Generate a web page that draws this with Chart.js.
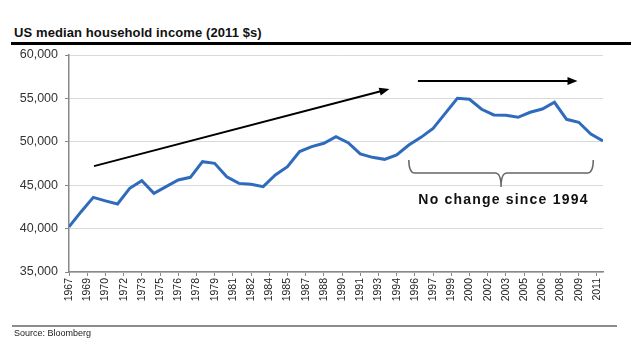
<!DOCTYPE html>
<html lang="en">
<head>
<meta charset="UTF-8">
<title>US median household income</title>
<script src="https://cdn.jsdelivr.net/npm/chart.js"></script>
<style>
    html, body { margin: 0; padding: 0; background: #fff; }
    body { width: 631px; height: 344px; position: relative; overflow: hidden; font-family: Arial, "Liberation Sans", sans-serif; }
    .title { position: absolute; left: 14px; top: 25px; font-size: 13px; font-weight: bold; color: #111; letter-spacing: 0.1px; }
    .topRule { position: absolute; left: 11px; right: 0; top: 42px; height: 3px; background: #000; }
    .bottomRule { position: absolute; left: 12px; width: 605px; top: 325px; height: 2px; background: #8c8c8c; }
    .source { position: absolute; left: 14px; top: 328px; font-size: 9px; color: #222; }
    #incomeChart { position: absolute; left: 0; top: 0; }
</style>
</head>
<body>
<div class="title">US median household income (2011 $s)</div>
<div class="topRule"></div>
<canvas id="incomeChart" width="631" height="344"></canvas>
<div class="bottomRule"></div>
<div class="source">Source: Bloomberg</div>

<script>
// yearly values, 1967-2011
const years = [];
for (let y = 1967; y <= 2011; y++) years.push(y);
const income = [
    40200, 41950, 43600, 43200, 42830, 44640, 45520, 44070, 44830, 45600,
    45910, 47710, 47520, 45980, 45210, 45100, 44830, 46180, 47140, 48870,
    49440, 49830, 50600, 49900, 48600, 48210, 47980, 48480, 49630, 50510,
    51550, 53280, 55010, 54900, 53750, 53090, 53050, 52820, 53400, 53780,
    54550, 52590, 52250, 50900, 50090
];
// tick labels every 18 months along the date axis
const xTickLabels = ['1967','1969','1970','1972','1973','1975','1976','1978','1979','1981',
    '1982','1984','1985','1987','1988','1990','1991','1993','1994','1996',
    '1997','1999','2000','2002','2003','2005','2006','2008','2009','2011'];
const yTicks = [35000, 40000, 45000, 50000, 55000, 60000];

// annotations in data coordinates [year, value]
const trendArrow = [[1969.06, 47200], [1993.4, 56080]];
const flatArrow = [[1995.75, 57000], [2008.9, 57000]];
const brace = { from: 1995.0, to: 2010.2, mid: 2002.6, top: 47900, bar: 46400, tip: 44800 };
const braceText = { x: 2002.8, y: 43300, text: 'No change since 1994' };

function arrow(ctx, x1, y1, x2, y2) {
    const a = Math.atan2(y2 - y1, x2 - x1);
    const len = 10, half = 4;
    ctx.beginPath();
    ctx.moveTo(x1, y1);
    ctx.lineTo(x2 - Math.cos(a) * len * 0.8, y2 - Math.sin(a) * len * 0.8);
    ctx.stroke();
    ctx.beginPath();
    ctx.moveTo(x2, y2);
    ctx.lineTo(x2 - Math.cos(a) * len - Math.sin(a) * half, y2 - Math.sin(a) * len + Math.cos(a) * half);
    ctx.lineTo(x2 - Math.cos(a) * len + Math.sin(a) * half, y2 - Math.sin(a) * len - Math.cos(a) * half);
    ctx.closePath();
    ctx.fill();
}

const annotations = {
    id: 'annotations',
    afterDatasetsDraw(chart) {
        const ctx = chart.ctx;
        const xs = chart.scales.x, ys = chart.scales.y;
        const px = v => xs.getPixelForValue(v);
        const py = v => ys.getPixelForValue(v);
        ctx.save();
        ctx.strokeStyle = '#000';
        ctx.fillStyle = '#000';
        ctx.lineWidth = 2;
        arrow(ctx, px(trendArrow[0][0]), py(trendArrow[0][1]), px(trendArrow[1][0]), py(trendArrow[1][1]));
        arrow(ctx, px(flatArrow[0][0]), py(flatArrow[0][1]), px(flatArrow[1][0]), py(flatArrow[1][1]));

        // curly brace under the flat period
        const l = px(brace.from), r = px(brace.to), m = px(brace.mid);
        const t = py(brace.top), b = py(brace.bar), tip = py(brace.tip);
        ctx.strokeStyle = '#666';
        ctx.lineWidth = 1.5;
        ctx.beginPath();
        ctx.moveTo(l, t);
        ctx.quadraticCurveTo(l, b, l + 6, b);
        ctx.lineTo(m - 6, b);
        ctx.quadraticCurveTo(m, b, m, tip);
        ctx.quadraticCurveTo(m, b, m + 6, b);
        ctx.lineTo(r - 6, b);
        ctx.quadraticCurveTo(r, b, r, t);
        ctx.stroke();

        ctx.fillStyle = '#111';
        ctx.font = 'bold 14px Arial, "Liberation Sans", sans-serif';
        ctx.letterSpacing = '1.2px';
        ctx.textAlign = 'center';
        ctx.textBaseline = 'middle';
        ctx.fillText(braceText.text, px(braceText.x), py(braceText.y));
        ctx.letterSpacing = '0px';
        ctx.restore();
    }
};

new Chart(document.getElementById('incomeChart'), {
    type: 'line',
    data: {
        datasets: [{
            data: years.map((y, i) => ({ x: y, y: income[i] })),
            borderColor: '#2f6bbd',
            borderWidth: 3,
            pointRadius: 0,
            tension: 0,
            fill: false
        }]
    },
    options: {
        responsive: false,
        animation: false,
        layout: { padding: { top: 55, right: 28, left: 0, bottom: 0 } },
        plugins: { legend: { display: false }, tooltip: { enabled: false } },
        scales: {
            x: {
                type: 'linear',
                min: 1967,
                max: 2011,
                afterBuildTicks: scale => {
                    scale.ticks = xTickLabels.map((_, i) => ({ value: 1967 + i * 1.5 }));
                },
                afterFit: scale => { scale.height = 72; },
                grid: { drawOnChartArea: false, drawTicks: true, tickLength: 4, tickColor: '#888' },
                border: { color: '#888', width: 1.5 },
                ticks: {
                    autoSkip: false,
                    minRotation: 90,
                    maxRotation: 90,
                    padding: 2,
                    color: '#222',
                    font: { family: 'Arial, "Liberation Sans", sans-serif', size: 10.5 },
                    callback: (v, i) => xTickLabels[i]
                }
            },
            y: {
                min: 35000,
                max: 60000,
                afterBuildTicks: scale => {
                    scale.ticks = yTicks.map(v => ({ value: v }));
                },
                afterFit: scale => { scale.width = 69; },
                grid: { color: '#d9d9d9', lineWidth: 1, drawTicks: true, tickLength: 4, tickColor: '#888' },
                border: { color: '#888', width: 1.5 },
                ticks: {
                    padding: 7,
                    color: '#333',
                    font: { family: 'Arial, "Liberation Sans", sans-serif', size: 12.5 },
                    callback: v => v.toLocaleString('en-US')
                }
            }
        }
    },
    plugins: [annotations]
});
</script>
</body>
</html>
